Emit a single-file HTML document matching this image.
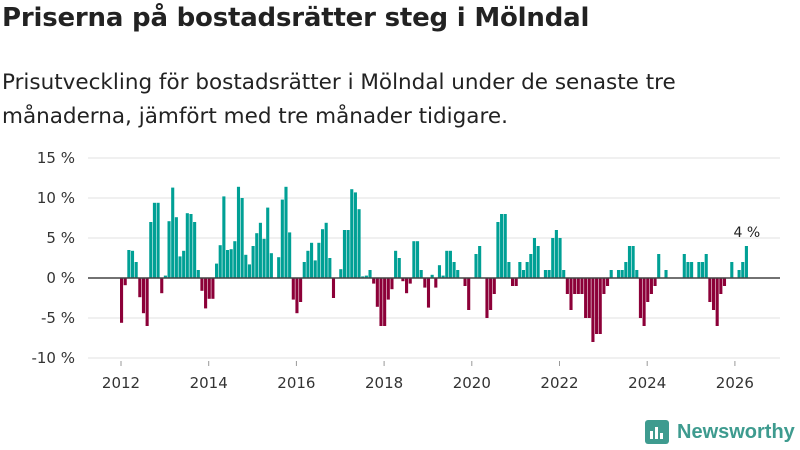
<!DOCTYPE html>
<html><head><meta charset="utf-8"><style>
body{margin:0;width:800px;height:450px;background:#fff;font-family:"Liberation Sans","DejaVu Sans",sans-serif;color:#222;overflow:hidden}
#t{position:absolute;left:2px;top:3px;font-size:26px;font-weight:bold;font-family:"DejaVu Sans",sans-serif;letter-spacing:-0.2px}
#s{position:absolute;left:2px;top:66px;font-size:21.5px;line-height:34px;font-family:"DejaVu Sans",sans-serif;width:700px}
svg{position:absolute;left:0;top:0}
</style></head><body>
<div id="t">Priserna på bostadsrätter steg i Mölndal</div>
<div id="s">Prisutveckling för bostadsrätter i Mölndal under de senaste tre månaderna, jämfört med tre månader tidigare.</div>
<svg id="c" width="800" height="450"></svg>
<script>
const startYear=2012;
const values=[-5.6,-0.9,3.5,3.4,2.0,-2.4,-4.4,-6.0,7.0,9.4,9.4,-1.9,
0.3,7.1,11.3,7.6,2.7,3.4,8.1,8.0,7.0,1.0,-1.6,-3.8,
-2.6,-2.6,1.8,4.1,10.2,3.5,3.6,4.6,11.4,10.0,2.9,1.7,
4.0,5.6,6.9,4.9,8.8,3.1,0,2.6,9.8,11.4,5.7,-2.7,
-4.4,-3.0,2.0,3.4,4.4,2.2,4.4,6.1,6.9,2.5,-2.5,0,
1.1,6.0,6.0,11.1,10.7,8.6,0.2,0.3,1.0,-0.7,-3.6,-6.0,
-6.0,-2.7,-1.4,3.4,2.5,-0.4,-1.9,-0.7,4.6,4.6,1.0,-1.2,
-3.7,0.4,-1.2,1.6,0.3,3.4,3.4,2.0,1.0,0,-1.0,-4.0,
0,3.0,4.0,0,-5.0,-4.0,-2.0,7.0,8.0,8.0,2.0,-1.0,
-1.0,2.0,1.0,2.0,3.0,5.0,4.0,0,1,1,5,6,
5,1,-2,-4,-2,-2,-2,-5,-5,-8,-7,-7,
-2,-1,1,0,1,1,2,4,4,1,-5,-6,
-3,-2,-1,3,0,1,0,0,0,0,3,2,
2,0,2,2,3,-3,-4,-6,-2,-1,0,2,
0,1,2,4];
const yTicks=[15,10,5,0,-5,-10];
const xTicks=[2012,2014,2016,2018,2020,2022,2024,2026];
const lastLabel="4 %";
const NS="http://www.w3.org/2000/svg";
const svg=document.getElementById('c');
function y(v){return 278-v*8;}
function x(t){return 120+(t-startYear)*43.85;}
function mk(tag,a,txt){const e=document.createElementNS(NS,tag);for(const k in a)e.setAttribute(k,a[k]);if(txt!=null)e.textContent=txt;svg.appendChild(e);return e;}
yTicks.forEach(v=>{
  const g=mk('line',{x1:88,x2:780,y1:y(v),y2:y(v),stroke:'#e2e2e2','stroke-width':1});
  
  
  const l=mk('text',{x:75,y:y(v)+5,'text-anchor':'end','font-size':15,fill:'#333','font-family':'DejaVu Sans, sans-serif'},v+' %');
  
  
});
values.forEach((v,i)=>{
  const t=startYear+i/12;
  const b=mk('rect',{x:x(t),width:3.1,y:Math.min(y(v),y(0)),height:Math.abs(y(v)-y(0)),fill:v>=0?'#00a095':'#8c0038'});
  
  
});
const z=mk('line',{x1:88,x2:780,y1:y(0),y2:y(0),stroke:'#444','stroke-width':1.5});


xTicks.forEach(yr=>{
  const tk=mk('line',{x1:x(yr)+1,x2:x(yr)+1,y1:361,y2:366,stroke:'#999'});
  
  
  const l=mk('text',{x:x(yr)+1,y:388,'text-anchor':'middle','font-size':15,fill:'#333','font-family':'DejaVu Sans, sans-serif'},yr);
  
  
});
const li=values.length-1;
const an=mk('text',{x:x(startYear+li/12)+2,y:y(values[li])-9,'text-anchor':'middle','font-size':14,fill:'#222','font-family':'DejaVu Sans, sans-serif'},lastLabel);


</script>
<div style="position:absolute;left:645px;top:420px;display:flex;align-items:center">
<div style="width:24px;height:24px;background:#3e9b8f;border-radius:3px;position:relative">
<div style="position:absolute;left:5px;bottom:5px;width:3px;height:8px;background:#fff"></div>
<div style="position:absolute;left:10px;bottom:5px;width:3px;height:12px;background:#fff"></div>
<div style="position:absolute;left:15px;bottom:5px;width:3px;height:6px;background:#fff"></div></div>
<span style="margin-left:8px;font-size:20px;font-weight:bold;color:#3e9b8f;font-family:'Liberation Sans',sans-serif">Newsworthy</span></div>
</body></html>
